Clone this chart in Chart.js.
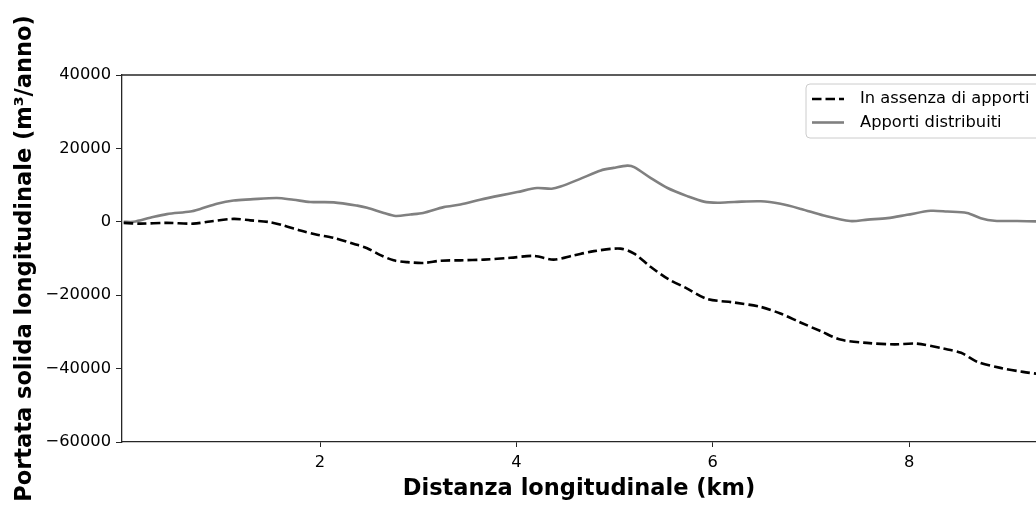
<!DOCTYPE html>
<html>
<head>
<meta charset="utf-8">
<script src="https://cdn.jsdelivr.net/npm/chart.js@4.4.1/dist/chart.umd.min.js"></script>
<style>
  html, body { margin: 0; padding: 0; background: #ffffff; overflow: hidden; }
  #wrap { width: 1036px; height: 509px; }
</style>
</head>
<body>
<div id="wrap"><canvas id="c" width="1036" height="509"></canvas></div>
<script>
// ---- Data ----
const seriesLabels = ['In assenza di apporti', 'Apporti distribuiti'];

const kmAssenza = [0, 0.17, 0.44, 0.71, 0.88, 1.12, 1.29, 1.49, 1.63, 1.80, 1.97, 2.14, 2.34, 2.48, 2.61, 2.75, 2.89, 3.06, 3.23, 3.43, 3.67, 3.94, 4.18, 4.38, 4.58, 4.79, 5.06, 5.20, 5.37, 5.54, 5.74, 5.94, 6.22, 6.49, 6.69, 6.90, 7.10, 7.30, 7.57, 7.85, 8.08, 8.36, 8.53, 8.70, 8.93, 9.16, 9.30];
const qAssenza = [-300, -500, -300, -500, 100, 800, 400, -100, -1000, -2400, -3500, -4400, -6000, -7200, -9000, -10500, -11000, -11200, -10600, -10500, -10300, -9800, -9300, -10300, -9200, -8000, -7300, -8700, -12300, -15500, -18200, -21000, -22000, -23200, -25000, -27500, -29800, -32100, -33000, -33400, -33200, -34600, -35700, -38200, -39800, -40900, -41400];

const kmDistribuiti = [0, 0.10, 0.27, 0.44, 0.68, 0.78, 0.95, 1.12, 1.29, 1.56, 1.73, 1.90, 2.14, 2.38, 2.48, 2.65, 2.77, 2.92, 3.05, 3.26, 3.43, 3.63, 3.84, 4.01, 4.21, 4.36, 4.45, 4.65, 4.86, 4.99, 5.13, 5.20, 5.37, 5.54, 5.74, 5.91, 6.05, 6.22, 6.49, 6.69, 6.90, 7.13, 7.40, 7.58, 7.78, 7.98, 8.22, 8.39, 8.59, 8.73, 8.87, 9.10, 9.30];
const qDistribuiti = [0, 0, 1100, 2100, 2800, 3500, 4900, 5800, 6100, 6500, 6000, 5400, 5300, 4400, 3800, 2400, 1600, 2000, 2400, 4000, 4700, 6000, 7200, 8100, 9200, 9000, 9600, 11700, 14000, 14700, 15300, 14900, 11900, 9200, 7000, 5500, 5200, 5400, 5600, 4900, 3500, 1700, 200, 600, 1000, 1900, 3000, 2800, 2400, 1000, 300, 200, 100];

const xTicks = [2, 4, 6, 8];
const yTicks = [-60000, -40000, -20000, 0, 20000, 40000];

const xTitle = 'Distanza longitudinale (km)';
const yTitle = 'Portata solida longitudinale (m\u00B3/anno)';

// ---- Build datasets ----
const toPoints = (xs, ys) => xs.map((x, i) => ({ x: x, y: ys[i] }));

const FONT = 'DejaVu Sans';

const frameTop = {
  id: 'frameTop',
  afterDatasetsDraw(chart) {
    const { ctx, chartArea } = chart;
    ctx.save();
    ctx.strokeStyle = '#262626';
    ctx.lineWidth = 1.3;
    ctx.beginPath();
    ctx.moveTo(chartArea.left, chartArea.top);
    ctx.lineTo(chartArea.right + 2, chartArea.top);
    ctx.stroke();
    ctx.restore();
  }
};

const boxLegend = {
  id: 'boxLegend',
  afterDraw(chart) {
    const { ctx } = chart;
    const x0 = 806, y0 = 84, w = 260, h = 54, r = 4;
    ctx.save();
    ctx.beginPath();
    ctx.moveTo(x0 + r, y0);
    ctx.lineTo(x0 + w - r, y0);
    ctx.arcTo(x0 + w, y0, x0 + w, y0 + r, r);
    ctx.lineTo(x0 + w, y0 + h - r);
    ctx.arcTo(x0 + w, y0 + h, x0 + w - r, y0 + h, r);
    ctx.lineTo(x0 + r, y0 + h);
    ctx.arcTo(x0, y0 + h, x0, y0 + h - r, r);
    ctx.lineTo(x0, y0 + r);
    ctx.arcTo(x0, y0, x0 + r, y0, r);
    ctx.closePath();
    ctx.fillStyle = 'rgba(255,255,255,0.85)';
    ctx.fill();
    ctx.strokeStyle = '#cccccc';
    ctx.lineWidth = 1;
    ctx.stroke();

    const rows = [99, 122.5];
    chart.data.datasets.forEach((ds, i) => {
      const y = rows[i];
      ctx.beginPath();
      ctx.setLineDash(ds.borderDash || []);
      ctx.strokeStyle = ds.borderColor;
      ctx.lineWidth = ds.borderWidth;
      ctx.moveTo(812, y);
      ctx.lineTo(844, y);
      ctx.stroke();
      ctx.setLineDash([]);
      ctx.fillStyle = '#000000';
      ctx.font = '16.3px "' + FONT + '"';
      ctx.textBaseline = 'middle';
      ctx.textAlign = 'left';
      ctx.fillText(ds.label, 860, y);
    });
    ctx.restore();
  }
};

new Chart(document.getElementById('c'), {
  type: 'line',
  data: {
    datasets: [
      {
        label: seriesLabels[0],
        data: toPoints(kmAssenza, qAssenza),
        borderColor: '#000000',
        borderWidth: 2.6,
        borderDash: [9.5, 4],
        pointRadius: 0,
        tension: 0.3,
        fill: false
      },
      {
        label: seriesLabels[1],
        data: toPoints(kmDistribuiti, qDistribuiti),
        borderColor: '#808080',
        borderWidth: 2.6,
        pointRadius: 0,
        tension: 0.3,
        fill: false
      }
    ]
  },
  options: {
    responsive: false,
    animation: false,
    events: [],
    layout: { padding: { top: 75, right: 0, bottom: 0, left: 0 } },
    plugins: {
      legend: { display: false },
      tooltip: { enabled: false }
    },
    scales: {
      x: {
        type: 'linear',
        min: -0.017,
        max: 9.293,
        afterBuildTicks: (axis) => { axis.ticks = xTicks.map(v => ({ value: v })); },
        afterFit: (axis) => { axis.height = 67; },
        grid: { display: true, drawOnChartArea: false, drawTicks: true, tickLength: 5, color: '#262626', lineWidth: 1 },
        border: { display: true, color: '#262626', width: 1.3 },
        ticks: {
          color: '#000000',
          font: { family: FONT, size: 16.3 },
          padding: 6,
          maxRotation: 0,
          callback: (v) => String(v)
        },
        title: {
          display: true,
          text: xTitle,
          color: '#000000',
          font: { family: FONT, size: 22.5, weight: 'bold' },
          padding: { top: 0, bottom: 6 }
        }
      },
      y: {
        type: 'linear',
        min: -60000,
        max: 40000,
        afterBuildTicks: (axis) => { axis.ticks = yTicks.map(v => ({ value: v })); },
        afterFit: (axis) => { axis.width = 122; },
        grid: { display: true, drawOnChartArea: false, drawTicks: true, tickLength: 6, color: '#262626', lineWidth: 1 },
        border: { display: true, color: '#262626', width: 1.3 },
        ticks: {
          color: '#000000',
          font: { family: FONT, size: 16.3 },
          padding: 5,
          callback: (v) => (v < 0 ? '\u2212' + Math.abs(v) : String(v))
        },
        title: {
          display: true,
          text: yTitle,
          color: '#000000',
          font: { family: FONT, size: 22.5, weight: 'bold' },
          padding: { top: 12, bottom: 0 }
        }
      }
    }
  },
  plugins: [frameTop, boxLegend]
});
</script>
</body>
</html>
